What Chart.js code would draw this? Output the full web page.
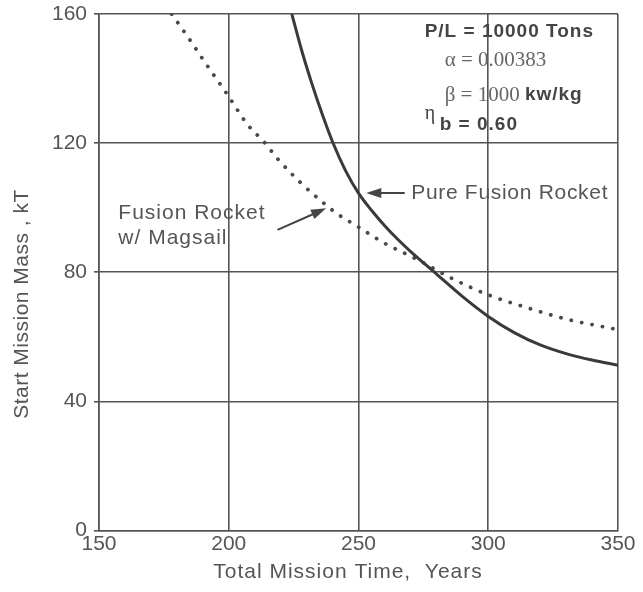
<!DOCTYPE html>
<html>
<head>
<meta charset="utf-8">
<script src="https://cdn.jsdelivr.net/npm/chart.js@4"></script>
<style>
  html, body { margin: 0; padding: 0; background: #fff; }
  #wrap { width: 643px; height: 592px; }
</style>
</head>
<body>
<div id="wrap"><canvas id="c" width="643" height="592"></canvas></div>
<script>
// ---- data ----
const xTicks = [150, 200, 250, 300, 350];
const yTicks = [0, 40, 80, 120, 160];

const pureYears = [224.3, 228, 232, 236, 240.1, 245, 250, 255, 260, 265, 270, 280, 290, 300, 310, 320, 330, 340, 350];
const pureMass  = [160, 149, 138.5, 129, 120.2, 111.5, 104.5, 99.2, 94.5, 90.3, 86.5, 79.5, 72.5, 66.3, 61.3, 57.5, 54.8, 52.8, 51.2];

const magYears = [178, 185, 190, 200, 207, 214, 219, 228, 235, 242, 250, 260, 270, 276, 285, 300, 315, 330, 350];
const magMass  = [160, 152, 146, 134.4, 126, 120, 115, 107.5, 102.5, 98, 94, 89, 85, 82.5, 78.5, 73, 69, 65.5, 62.2];

const xTitle = 'Total Mission Time,  Years';
const yTitle = 'Start Mission Mass , kT';

const toXY = (xs, ys) => xs.map((x, i) => ({ x: x, y: ys[i] }));

const SANS = '"Liberation Sans", Arial, Helvetica, sans-serif';
const SERIF = '"Liberation Serif", "Times New Roman", serif';
const TXT = '#555';
const INK = '#3a3a3a';

function arrow(ctx, x1, y1, x2, y2) {
  const ang = Math.atan2(y2 - y1, x2 - x1);
  const L = 15, W = 5;
  ctx.save();
  ctx.strokeStyle = '#444';
  ctx.fillStyle = '#444';
  ctx.lineWidth = 2;
  ctx.beginPath();
  ctx.moveTo(x1, y1);
  ctx.lineTo(x2 - Math.cos(ang) * L * 0.8, y2 - Math.sin(ang) * L * 0.8);
  ctx.stroke();
  ctx.beginPath();
  ctx.moveTo(x2, y2);
  ctx.lineTo(x2 - Math.cos(ang) * L + Math.sin(ang) * W, y2 - Math.sin(ang) * L - Math.cos(ang) * W);
  ctx.lineTo(x2 - Math.cos(ang) * L - Math.sin(ang) * W, y2 - Math.sin(ang) * L + Math.cos(ang) * W);
  ctx.closePath();
  ctx.fill();
  ctx.restore();
}

function txt(ctx, s, x, y, font, color, spacing, align, baseline) {
  ctx.save();
  ctx.font = font;
  ctx.fillStyle = color;
  ctx.textBaseline = baseline || 'middle';
  ctx.textAlign = align || 'left';
  ctx.letterSpacing = spacing || '0px';
  ctx.fillText(s, x, y);
  const w = ctx.measureText(s).width;
  ctx.restore();
  return w;
}

const annot = {
  id: 'annot',
  afterDraw(chart) {
    const ctx = chart.ctx;
    const sx = chart.scales.x, sy = chart.scales.y;
    const px = v => sx.getPixelForValue(v);
    const py = v => sy.getPixelForValue(v);

    // axis titles
    txt(ctx, xTitle, 348, 572, '21px ' + SANS, TXT, '1px', 'center');
    ctx.save();
    ctx.translate(22, 304);
    ctx.rotate(-Math.PI / 2);
    txt(ctx, yTitle, 0, 0, '21px ' + SANS, TXT, '0.5px', 'center');
    ctx.restore();

    // parameter box
    txt(ctx, 'P/L = 10000 Tons', px(275.5), py(154.5), 'bold 19px ' + SANS, '#444', '1px');
    txt(ctx, '\u03b1 = 0.00383', px(283.2), py(145.75), '21px ' + SERIF, '#666', '0px');
    let w = txt(ctx, '\u03b2 = 1000 ', px(283.2), py(134.9), '21px ' + SERIF, '#666', '0px');
    txt(ctx, 'kw/kg', px(283.2) + w, py(134.9), 'bold 19px ' + SANS, '#444', '1px');
    txt(ctx, '\u03b7', px(275.5), py(127.5), '20px ' + SERIF, '#444', '0px', 'left', 'alphabetic');
    txt(ctx, 'b = 0.60', px(281.3), py(125.6), 'bold 19px ' + SANS, '#444', '1px');

    // curve labels
    txt(ctx, 'Pure Fusion Rocket', px(270.3), py(104.55), '21px ' + SANS, TXT, '0.7px');
    arrow(ctx, px(267.8), py(104.55), px(253.0), py(104.55));
    txt(ctx, 'Fusion Rocket', px(157.45), py(98.35), '21px ' + SANS, TXT, '1px');
    txt(ctx, 'w/ Magsail', px(157.45), py(90.6), '21px ' + SANS, TXT, '1px');
    arrow(ctx, px(218.8), py(93.1), px(237.5), py(99.8));
  }
};

new Chart(document.getElementById('c'), {
  type: 'line',
  data: {
    datasets: [
      {
        label: 'Pure Fusion Rocket',
        data: toXY(pureYears, pureMass),
        borderColor: INK,
        borderWidth: 3,
        pointRadius: 0,
        cubicInterpolationMode: 'monotone',
        fill: false
      },
      {
        label: 'Fusion Rocket w/ Magsail',
        data: toXY(magYears, magMass),
        borderColor: '#4a4a4a',
        borderWidth: 3.8,
        borderDash: [0.1, 10.5],
        borderCapStyle: 'round',
        pointRadius: 0,
        cubicInterpolationMode: 'monotone',
        fill: false
      }
    ]
  },
  options: {
    responsive: false,
    animation: false,
    devicePixelRatio: 1,
    layout: { padding: { left: 0, right: 25, top: 14, bottom: 0 } },
    plugins: { legend: { display: false }, tooltip: { enabled: false } },
    scales: {
      x: {
        type: 'linear',
        min: 150, max: 350,
        afterBuildTicks: s => { s.ticks = xTicks.map(v => ({ value: v })); },
        afterFit: s => { s.height = 61.5; s.paddingLeft = 0; s.paddingRight = 0; },
        grid: { color: '#555', lineWidth: 1.6, tickLength: 0, drawTicks: false },
        border: { color: '#555', width: 1.6 },
        ticks: { color: TXT, font: { family: SANS, size: 21 }, padding: 1, maxRotation: 0 }
      },
      y: {
        type: 'linear',
        min: 0, max: 160,
        afterBuildTicks: s => { s.ticks = yTicks.map(v => ({ value: v })); },
        afterFit: s => { s.width = 99; s.paddingTop = 0; s.paddingBottom = 0; },
        grid: { color: '#555', lineWidth: 1.6, tickLength: 5 },
        border: { color: '#555', width: 1.6 },
        ticks: { color: TXT, font: { family: SANS, size: 21 }, padding: 7 }
      }
    }
  },
  plugins: [annot]
});
</script>
</body>
</html>
